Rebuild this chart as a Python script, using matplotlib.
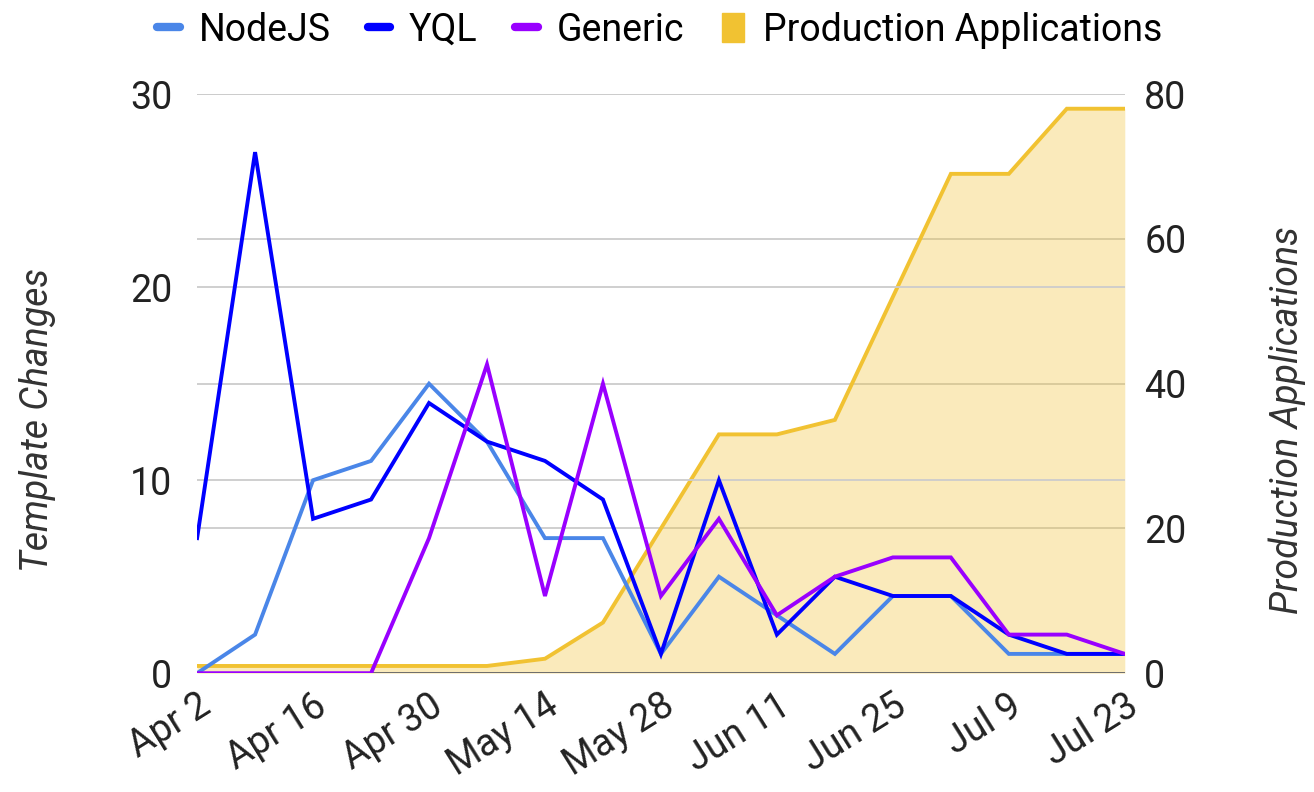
import numpy as np
import matplotlib
matplotlib.use("Agg")
from matplotlib import pyplot as plt
from matplotlib.lines import Line2D
from matplotlib.patches import Patch

plt.rcParams['font.family'] = ['Roboto', 'DejaVu Sans']

# weekly data, Apr 2 .. Jul 23
weeks = ['Apr 2', 'Apr 9', 'Apr 16', 'Apr 23', 'Apr 30', 'May 7', 'May 14', 'May 21',
         'May 28', 'Jun 4', 'Jun 11', 'Jun 18', 'Jun 25', 'Jul 2', 'Jul 9', 'Jul 16', 'Jul 23']
nodejs  = [0, 2, 10, 11, 15, 12, 7, 7, 1, 5, 3, 1, 4, 4, 1, 1, 1]
yql     = [7, 27, 8, 9, 14, 12, 11, 9, 1, 10, 2, 5, 4, 4, 2, 1, 1]
generic = [0, 0, 0, 0, 7, 16, 4, 15, 4, 8, 3, 5, 6, 6, 2, 2, 1]
prod_apps = [1, 1, 1, 1, 1, 1, 2, 7, 20, 33, 33, 35, 52, 69, 69, 78, 78]

C_NODE = '#4a86e8'
C_YQL = '#0000ff'
C_GEN = '#9900ff'
C_PROD = '#f1c232'
FS = 27

x = np.arange(len(weeks))

fig = plt.figure(figsize=(13.14, 7.92), dpi=100)
ax = fig.add_axes([0.150, 0.150, 0.706, 0.731])
ax2 = ax.twinx()

# area on the right axis, behind the lines
ax2.fill_between(x, prod_apps, 0, color=C_PROD, alpha=0.33, lw=0)
ax2.plot(x, prod_apps, color=C_PROD, lw=2.8, solid_joinstyle='miter')
ax2.set_ylim(0, 80)
ax2.set_yticks([0, 20, 40, 60, 80])
ax2.grid(axis='y', color='#cccccc', lw=1.3)
ax2.set_axisbelow(True)

ax.set_zorder(ax2.get_zorder() + 1)
ax.patch.set_visible(False)

ax.axhline(0, color='#333333', lw=1.8, alpha=0.8, zorder=1)
ax.plot(x, nodejs, color=C_NODE, lw=2.8, solid_joinstyle='miter')
ax.plot(x, yql, color=C_YQL, lw=2.8, solid_joinstyle='miter')
ax.plot(x, generic, color=C_GEN, lw=2.8, solid_joinstyle='miter')
ax.set_ylim(0, 30)
ax.set_yticks([0, 10, 20, 30])
ax.grid(axis='y', color='#cccccc', lw=1.3)
ax.set_axisbelow(True)

ax.set_xlim(0, len(weeks) - 1)
ax.set_xticks(x[::2])
ax.set_xticklabels(weeks[::2], rotation=32, ha='right', rotation_mode='anchor')

for a in (ax, ax2):
    for s in a.spines.values():
        s.set_visible(False)
    a.tick_params(length=0, labelsize=FS, colors='#222222')
ax.tick_params(axis='y', pad=18)
ax2.tick_params(axis='y', pad=14)
ax.tick_params(axis='x', pad=10)

ax.set_ylabel('Template Changes', fontsize=FS, style='italic', color='#333333')
ax2.set_ylabel('Production Applications', fontsize=FS, style='italic', color='#333333',
               rotation=90)
ax.yaxis.set_label_coords(-0.152, 0.437)
ax2.yaxis.set_label_coords(1.155, 0.437)

handles = [Line2D([], [], color=C_NODE, lw=6, solid_capstyle='round'),
           Line2D([], [], color=C_YQL, lw=6, solid_capstyle='round'),
           Line2D([], [], color=C_GEN, lw=6, solid_capstyle='round'),
           Patch(color=C_PROD)]
fig.legend(handles, ['NodeJS', 'YQL', 'Generic', 'Production Applications'],
           loc='center', bbox_to_anchor=(0.502, 0.962), ncol=4, frameon=False,
           fontsize=FS, handlelength=0.6, handleheight=0.8, handletextpad=0.5,
           columnspacing=1.0)

fig.savefig('out.png', dpi=100)
